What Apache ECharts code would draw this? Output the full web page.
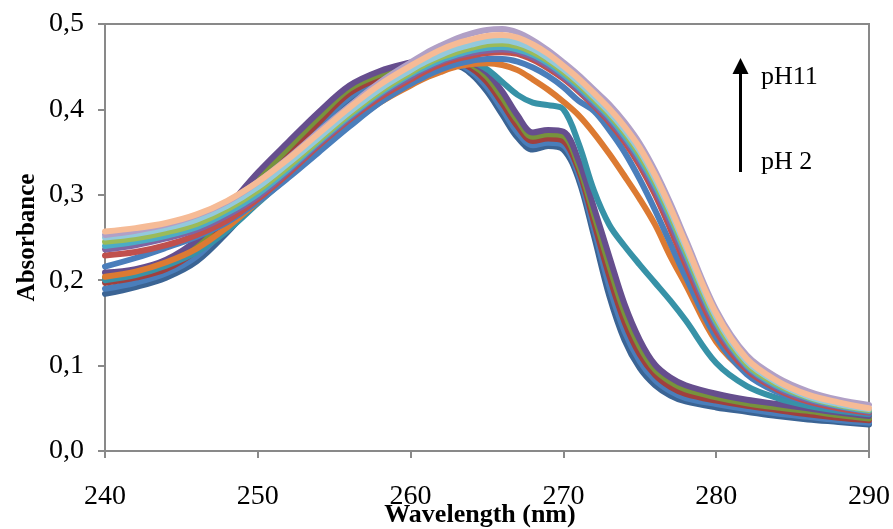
<!DOCTYPE html>
<html>
<head>
<meta charset="utf-8">
<title>UV spectra vs pH</title>
<script src="https://cdn.jsdelivr.net/npm/echarts@6/dist/echarts.min.js"></script>
<style>
  html, body { margin: 0; padding: 0; background: #fff; }
  #chart { width: 893px; height: 529px; }
</style>
</head>
<body>
<div id="chart"></div>
<script>
// Wavelength grid (nm)
const wavelengths = [240, 242, 244, 246, 248, 250, 252, 254, 256, 258, 260, 261, 262, 263, 264, 265, 266, 267, 268, 269, 270, 271, 272, 273, 274, 275, 276, 277, 278, 280, 282, 284, 286, 288, 290];

// Acidic spectra (bundle with the 268 nm dip and 270 nm shoulder)
const acid1 = [0.209, 0.213, 0.224, 0.247, 0.285, 0.326, 0.362, 0.397, 0.428, 0.445, 0.455, 0.459, 0.461, 0.460, 0.455, 0.443, 0.421, 0.393, 0.373, 0.376, 0.374, 0.340, 0.285, 0.228, 0.172, 0.130, 0.101, 0.086, 0.077, 0.067, 0.060, 0.055, 0.050, 0.045, 0.041];
const acid2 = [0.203, 0.208, 0.219, 0.241, 0.278, 0.318, 0.355, 0.391, 0.424, 0.441, 0.452, 0.456, 0.458, 0.458, 0.452, 0.438, 0.414, 0.387, 0.368, 0.371, 0.369, 0.334, 0.277, 0.217, 0.162, 0.122, 0.095, 0.081, 0.072, 0.063, 0.056, 0.051, 0.047, 0.042, 0.038];
const acid3 = [0.197, 0.203, 0.213, 0.235, 0.270, 0.311, 0.348, 0.385, 0.419, 0.437, 0.449, 0.453, 0.456, 0.455, 0.448, 0.432, 0.407, 0.380, 0.363, 0.366, 0.363, 0.329, 0.268, 0.205, 0.151, 0.113, 0.089, 0.075, 0.067, 0.059, 0.053, 0.048, 0.043, 0.039, 0.036];
const acid4 = [0.190, 0.197, 0.208, 0.228, 0.263, 0.303, 0.342, 0.380, 0.414, 0.434, 0.446, 0.451, 0.453, 0.453, 0.444, 0.426, 0.400, 0.373, 0.358, 0.361, 0.358, 0.323, 0.260, 0.193, 0.140, 0.105, 0.083, 0.070, 0.062, 0.055, 0.049, 0.044, 0.040, 0.036, 0.033];
const acid5 = [0.184, 0.192, 0.203, 0.222, 0.256, 0.296, 0.335, 0.374, 0.410, 0.430, 0.443, 0.448, 0.451, 0.451, 0.441, 0.421, 0.394, 0.367, 0.353, 0.357, 0.353, 0.318, 0.252, 0.182, 0.130, 0.097, 0.077, 0.065, 0.058, 0.051, 0.046, 0.041, 0.037, 0.034, 0.031];

// Transition spectra
const midTeal   = [0.200, 0.206, 0.217, 0.233, 0.258, 0.290, 0.322, 0.354, 0.385, 0.412, 0.433, 0.442, 0.449, 0.454, 0.455, 0.447, 0.432, 0.417, 0.408, 0.405, 0.400, 0.360, 0.305, 0.265, 0.240, 0.218, 0.197, 0.176, 0.153, 0.103, 0.076, 0.062, 0.053, 0.047, 0.043];
const midOrange = [0.204, 0.210, 0.221, 0.237, 0.262, 0.292, 0.322, 0.352, 0.382, 0.408, 0.428, 0.437, 0.444, 0.450, 0.453, 0.454, 0.452, 0.446, 0.435, 0.423, 0.409, 0.393, 0.372, 0.348, 0.322, 0.295, 0.265, 0.228, 0.195, 0.128, 0.092, 0.072, 0.060, 0.052, 0.047];
const midBlue   = [0.216, 0.226, 0.238, 0.251, 0.268, 0.292, 0.320, 0.350, 0.380, 0.408, 0.430, 0.439, 0.447, 0.453, 0.457, 0.459, 0.459, 0.456, 0.449, 0.439, 0.426, 0.410, 0.398, 0.376, 0.350, 0.318, 0.282, 0.243, 0.204, 0.133, 0.090, 0.069, 0.057, 0.049, 0.044];

// Basic spectra (single band near 266 nm)
const base1 = [0.253, 0.258, 0.265, 0.276, 0.292, 0.315, 0.343, 0.374, 0.404, 0.432, 0.455, 0.466, 0.475, 0.483, 0.489, 0.493, 0.494, 0.490, 0.481, 0.469, 0.455, 0.440, 0.423, 0.406, 0.385, 0.360, 0.328, 0.290, 0.248, 0.165, 0.112, 0.086, 0.070, 0.060, 0.054];
const base2 = [0.257, 0.261, 0.267, 0.277, 0.293, 0.315, 0.342, 0.372, 0.402, 0.429, 0.451, 0.461, 0.470, 0.477, 0.482, 0.486, 0.487, 0.484, 0.476, 0.465, 0.451, 0.436, 0.419, 0.401, 0.380, 0.355, 0.323, 0.285, 0.243, 0.161, 0.108, 0.082, 0.066, 0.057, 0.050];
const base3 = [0.250, 0.254, 0.261, 0.271, 0.287, 0.309, 0.337, 0.367, 0.397, 0.424, 0.446, 0.456, 0.464, 0.471, 0.476, 0.480, 0.481, 0.478, 0.471, 0.460, 0.447, 0.432, 0.415, 0.397, 0.376, 0.351, 0.319, 0.281, 0.239, 0.157, 0.105, 0.080, 0.064, 0.055, 0.049];
const base4 = [0.245, 0.249, 0.256, 0.266, 0.283, 0.305, 0.333, 0.364, 0.394, 0.421, 0.443, 0.453, 0.461, 0.467, 0.472, 0.476, 0.477, 0.474, 0.467, 0.457, 0.444, 0.429, 0.412, 0.394, 0.373, 0.347, 0.315, 0.277, 0.235, 0.153, 0.102, 0.078, 0.063, 0.054, 0.048];
const base5 = [0.240, 0.245, 0.252, 0.262, 0.279, 0.301, 0.330, 0.362, 0.392, 0.419, 0.441, 0.450, 0.458, 0.464, 0.469, 0.472, 0.473, 0.470, 0.464, 0.454, 0.441, 0.426, 0.409, 0.391, 0.369, 0.343, 0.311, 0.273, 0.231, 0.150, 0.100, 0.076, 0.062, 0.053, 0.047];
const base6 = [0.236, 0.241, 0.249, 0.259, 0.276, 0.298, 0.328, 0.360, 0.390, 0.417, 0.438, 0.448, 0.456, 0.462, 0.466, 0.469, 0.470, 0.468, 0.461, 0.451, 0.438, 0.423, 0.406, 0.388, 0.366, 0.339, 0.306, 0.267, 0.225, 0.146, 0.098, 0.074, 0.060, 0.052, 0.046];
const base7 = [0.229, 0.233, 0.241, 0.253, 0.270, 0.295, 0.325, 0.358, 0.388, 0.414, 0.435, 0.445, 0.453, 0.459, 0.463, 0.466, 0.467, 0.465, 0.458, 0.448, 0.436, 0.421, 0.404, 0.385, 0.362, 0.334, 0.300, 0.260, 0.218, 0.140, 0.095, 0.072, 0.058, 0.050, 0.045];

// Axis ticks
const xTicks = [240, 250, 260, 270, 280, 290];
const yTicks = [0, 0.1, 0.2, 0.3, 0.4, 0.5];

// Draw order: later entries are painted on top
const spectra = [
  { name: 'acid5', values: acid5, color: '#3B6494' },
  { name: 'acid4', values: acid4, color: '#4A7EBB' },
  { name: 'acid3', values: acid3, color: '#A0403E' },
  { name: 'acid2', values: acid2, color: '#77933C' },
  { name: 'acid1', values: acid1, color: '#664E8E' },
  { name: 'midTeal', values: midTeal, color: '#3792A7' },
  { name: 'midOrange', values: midOrange, color: '#DC7A32' },
  { name: 'midBlue', values: midBlue, color: '#4A7EBB' },
  { name: 'base7', values: base7, color: '#C0504D' },
  { name: 'base6', values: base6, color: '#8064A2' },
  { name: 'base5', values: base5, color: '#4BACC6' },
  { name: 'base4', values: base4, color: '#9BBB59' },
  { name: 'base3', values: base3, color: '#93C9DC' },
  { name: 'base1', values: base1, color: '#B1A0C6' },
  { name: 'base2', values: base2, color: '#F6BB96' }
];

const serif = '"Liberation Serif", "Times New Roman", serif';
const axisGray = '#898989';

const chart = echarts.init(document.getElementById('chart'), null, { renderer: 'canvas' });

const option = {
  animation: false,
  backgroundColor: '#ffffff',
  grid: {
    left: 105, right: 24, top: 24, bottom: 78,
    containLabel: false,
    outerBoundsMode: 'none',
    show: true, borderColor: axisGray, borderWidth: 2, backgroundColor: 'transparent'
  },
  xAxis: {
    type: 'value',
    min: xTicks[0], max: xTicks[xTicks.length - 1], interval: 10,
    name: 'Wavelength (nm)', nameLocation: 'middle', nameGap: 51, nameMoveOverlap: false,
    nameTextStyle: { fontFamily: serif, fontWeight: 'bold', fontSize: 26, color: '#000', padding: [0, 14, 0, 0] },
    axisLine: { show: true, lineStyle: { color: axisGray, width: 2 } },
    axisTick: { show: true, inside: false, length: 7, lineStyle: { color: axisGray, width: 2 } },
    axisLabel: { margin: 32, fontFamily: serif, fontSize: 28, color: '#000' },
    splitLine: { show: false }
  },
  yAxis: {
    type: 'value',
    min: yTicks[0], max: yTicks[yTicks.length - 1], interval: 0.1,
    name: 'Absorbance', nameLocation: 'middle', nameGap: 65, nameRotate: 90, nameMoveOverlap: false,
    nameTextStyle: { fontFamily: serif, fontWeight: 'bold', fontSize: 25, color: '#000' },
    axisLine: { show: true, lineStyle: { color: axisGray, width: 2 } },
    axisTick: { show: true, inside: false, length: 7, lineStyle: { color: axisGray, width: 2 } },
    axisLabel: {
      margin: 21, fontFamily: serif, fontSize: 28, color: '#000',
      formatter: v => v.toFixed(1).replace('.', ',')
    },
    splitLine: { show: false }
  },
  series: spectra.map(s => ({
    name: s.name,
    type: 'line',
    smooth: 0.35,
    showSymbol: false,
    symbol: 'none',
    clip: true,
    lineStyle: { color: s.color, width: 6, cap: 'round', join: 'round' },
    emphasis: { disabled: true },
    data: wavelengths.map((w, i) => [w, s.values[i]])
  })),
  graphic: [
    // pH direction arrow
    { type: 'line', shape: { x1: 740.5, y1: 172, x2: 740.5, y2: 70 }, style: { stroke: '#000', lineWidth: 3 } },
    { type: 'polygon', shape: { points: [[740.5, 58], [732.5, 74], [748.5, 74]] }, style: { fill: '#000' } },
    { type: 'text', x: 761, y: 77, style: { text: 'pH11', fontFamily: serif, fontSize: 26, fill: '#000', verticalAlign: 'middle' } },
    { type: 'text', x: 761, y: 162, style: { text: 'pH 2', fontFamily: serif, fontSize: 26, fill: '#000', verticalAlign: 'middle' } }
  ]
};

chart.setOption(option);
</script>
</body>
</html>
